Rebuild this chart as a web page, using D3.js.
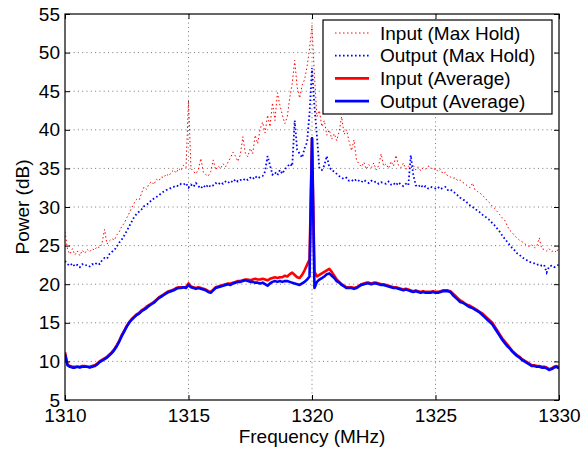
<!DOCTYPE html>
<html>
<head>
<meta charset="utf-8">
<script src="https://cdn.jsdelivr.net/npm/d3@7"></script>
<style>
  body { margin: 0; background: #fff; }
  svg text { font-family: "Liberation Sans", Arial, sans-serif; fill: #000; }
</style>
</head>
<body>
<div id="chart"></div>
<script>
// frequency grid, 0.1 MHz steps from 1310 to 1330
const freqs = d3.range(201).map(i => 1310 + i / 10);

const avgIn = [
  11.2, 9.6, 9.4, 9.3, 9.3, 9.3, 9.3, 9.4, 9.4, 9.3,
  9.3, 9.4, 9.5, 9.7, 10.0, 10.2, 10.4, 10.6, 10.9, 11.2,
  11.6, 12.1, 12.7, 13.4, 14.0, 14.6, 15.1, 15.5, 15.8, 16.1,
  16.3, 16.6, 16.8, 17.1, 17.3, 17.5, 17.7, 18.0, 18.3, 18.5,
  18.7, 18.9, 19.1, 19.2, 19.3, 19.5, 19.6, 19.6, 19.6, 19.6,
  20.1, 19.7, 19.6, 19.5, 19.6, 19.5, 19.4, 19.3, 19.1, 19.0,
  19.3, 19.6, 19.7, 19.8, 19.9, 20.0, 20.1, 20.1, 20.2, 20.3,
  20.4, 20.4, 20.5, 20.6, 20.6, 20.5, 20.6, 20.7, 20.6, 20.6,
  20.7, 20.6, 20.5, 20.7, 20.8, 20.9, 20.8, 20.9, 20.9, 21.1,
  21.0, 21.3, 21.5, 21.2, 20.9, 20.8, 21.2, 21.8, 22.5, 23.2,
  38.9,
  21.6, 21.0, 21.2, 21.4, 21.6, 21.8, 22.0, 21.6, 21.1, 20.6,
  20.3, 20.0, 19.8, 19.6, 19.6, 19.6, 19.5, 19.6, 19.8, 20.0,
  20.1, 20.2, 20.2, 20.1, 20.2, 20.2, 20.1, 20.0, 20.0, 19.9,
  19.8, 19.7, 19.6, 19.6, 19.5, 19.4, 19.3, 19.4, 19.3, 19.2,
  19.1, 19.2, 19.1, 19.0, 19.1, 19.0, 19.0, 19.0, 19.1, 19.0,
  19.0, 19.1, 19.2, 19.2, 19.2, 19.1, 18.8, 18.5, 18.2, 17.9,
  17.7, 17.5, 17.3, 17.2, 17.0, 16.8, 16.6, 16.4, 16.2, 15.9,
  15.6, 15.3, 15.0, 14.5, 14.0, 13.5, 13.0, 12.6, 12.2, 11.8,
  11.4, 11.1, 10.8, 10.6, 10.3, 10.1, 9.9, 9.7, 9.5, 9.5,
  9.4, 9.4, 9.3, 9.3, 9.2, 9.0, 9.1, 9.3, 9.4, 9.2,
  9.6
];

const avgOut = [
  10.9, 9.5, 9.3, 9.2, 9.2, 9.3, 9.2, 9.3, 9.3, 9.3,
  9.2, 9.3, 9.4, 9.6, 9.9, 10.1, 10.3, 10.5, 10.8, 11.1,
  11.5, 12.0, 12.6, 13.3, 13.9, 14.5, 15.0, 15.4, 15.7, 16.0,
  16.2, 16.5, 16.7, 16.9, 17.2, 17.4, 17.6, 17.9, 18.2, 18.4,
  18.6, 18.8, 19.0, 19.1, 19.2, 19.4, 19.5, 19.5, 19.6, 19.5,
  19.9, 19.6, 19.5, 19.4, 19.5, 19.4, 19.3, 19.2, 19.0, 18.9,
  19.2, 19.5, 19.6, 19.7, 19.8, 19.9, 20.0, 19.9, 20.1, 20.2,
  20.3, 20.3, 20.4, 20.5, 20.4, 20.3, 20.3, 20.2, 20.2, 20.1,
  20.2, 20.0, 19.8, 20.1, 20.3, 20.4, 20.3, 20.4, 20.3, 20.4,
  20.4, 20.3, 20.2, 20.1, 20.0, 19.9, 20.1, 20.3, 20.6, 21.0,
  38.9,
  19.5, 20.3, 20.6, 20.8, 21.0, 21.3, 21.4, 21.1, 20.8, 20.4,
  20.2, 19.9, 19.7, 19.5, 19.5, 19.5, 19.4, 19.5, 19.7, 19.9,
  20.0, 20.1, 20.1, 20.0, 20.1, 20.1, 20.0, 19.9, 19.9, 19.8,
  19.7, 19.6, 19.5, 19.5, 19.4, 19.3, 19.2, 19.3, 19.2, 19.1,
  19.0, 19.1, 19.0, 18.9, 19.0, 18.9, 18.9, 18.9, 19.0, 18.9,
  18.9, 19.0, 19.1, 19.1, 19.1, 19.0, 18.6, 18.3, 18.0, 17.7,
  17.6, 17.4, 17.2, 17.0, 16.9, 16.7, 16.5, 16.3, 16.0, 15.7,
  15.4, 15.1, 14.8, 14.3, 13.8, 13.3, 12.8, 12.4, 12.0, 11.7,
  11.3, 11.0, 10.7, 10.5, 10.2, 10.0, 9.8, 9.6, 9.4, 9.4,
  9.3, 9.3, 9.2, 9.2, 9.1, 8.9, 9.0, 9.2, 9.3, 9.1,
  9.5
];

const maxIn = [
  26.8, 24.5, 23.9, 24.6, 23.8, 24.3, 23.7, 24.4, 24.0, 24.5,
  24.2, 24.6, 24.4, 24.9, 24.7, 25.3, 27.1, 25.2, 25.6, 25.9,
  25.7, 26.4, 26.8, 27.5, 27.9, 28.6, 29.2, 29.9, 30.5, 31.0,
  30.9, 31.8, 32.6, 32.3, 33.0, 33.3, 32.9, 33.6, 33.4, 33.9,
  33.8, 34.3, 34.0, 34.5, 34.8, 34.4, 35.0, 34.7, 35.4, 35.1,
  43.8, 35.0, 34.6, 34.3, 34.9, 36.3, 34.5, 34.2, 34.0, 34.6,
  36.1, 34.8, 35.3, 35.0, 35.6, 35.2, 35.8, 36.4, 37.1, 36.6,
  35.9, 36.8, 39.1, 37.0, 36.5, 37.6, 36.9, 39.3, 38.2, 40.1,
  41.0, 39.6, 41.9, 40.4, 43.5, 41.2, 44.8, 43.2, 41.9, 40.8,
  41.7, 44.2, 46.0, 49.0, 45.5, 44.1, 45.8, 46.5, 48.2, 50.5,
  53.5,
  47.0, 41.7, 42.5, 40.4, 41.2, 39.3, 40.0, 38.8, 39.5,
  38.6, 39.8, 41.7, 39.4, 40.0, 38.5, 37.3, 38.7, 36.1, 35.6,
  35.2, 35.8, 34.9, 35.5, 35.1, 35.7, 34.8, 35.4, 36.9, 35.3,
  35.6, 35.0, 35.9, 35.3, 36.7, 35.4, 35.1, 35.7, 34.9, 35.3,
  35.0, 35.4, 34.8, 35.2, 34.7, 35.1, 34.9, 35.3, 35.2, 34.8,
  35.0, 34.6, 34.9, 34.3, 34.5, 34.0, 33.9, 33.7, 33.8, 33.4,
  33.5, 33.2, 33.0, 32.7, 32.5, 33.1, 32.2, 32.0, 31.8, 31.5,
  31.2, 30.8, 30.5, 30.1, 29.8, 29.4, 29.0, 28.6, 28.3, 27.6,
  27.0, 26.7, 26.3, 26.0, 25.7, 25.5, 25.3, 25.0, 24.9, 25.1,
  24.7, 24.9, 26.0, 24.6, 24.5, 24.3, 24.6, 24.2, 24.4, 24.1,
  24.9
];

const maxOut = [
  23.0, 22.6, 22.4, 22.7, 22.3, 22.5, 22.2, 22.6, 22.4, 22.5,
  22.3, 22.6, 22.5, 22.8, 22.6, 23.1, 23.4, 23.3, 23.9, 24.2,
  24.4, 24.9, 25.4, 25.8, 26.3, 26.9, 27.5, 28.1, 28.7, 29.1,
  29.4, 29.7, 30.1, 30.3, 30.5, 30.9, 31.1, 31.3, 31.5, 31.8,
  32.0, 32.2, 32.3, 32.5, 32.6, 32.8, 32.7, 33.0, 32.9, 33.1,
  32.5, 32.9, 32.6, 33.1, 32.7, 32.4, 32.8, 32.5, 32.9, 32.6,
  32.8, 33.1, 32.9, 33.2, 33.0, 33.3, 33.1, 33.4, 33.2, 33.6,
  33.3, 33.5, 33.4, 33.7, 33.5, 33.8, 33.6, 34.0, 33.7, 33.9,
  34.0, 34.6, 36.6, 35.4, 34.2, 34.5, 34.1, 34.8, 34.3, 34.9,
  35.2, 35.6, 35.3, 41.2, 37.4, 36.9, 36.4, 37.6, 38.4, 42.1,
  48.0,
  43.0, 39.2, 35.0, 34.8, 35.4, 36.6, 35.2, 34.7, 34.6,
  34.3, 34.0, 33.8, 33.6, 33.8, 33.4, 33.5, 33.3, 33.6, 33.4,
  33.2, 33.5, 33.3, 33.1, 33.4, 33.2, 33.3, 33.0, 33.2, 33.1,
  33.0, 33.3, 32.9, 33.1, 32.8, 33.2, 32.9, 32.7, 33.0, 32.8,
  36.7, 34.2, 32.8, 32.6, 32.9, 32.5, 32.7, 32.4, 32.6, 32.5,
  32.4, 32.6, 32.3, 32.5, 32.6, 32.2, 32.3, 32.0, 31.8, 31.5,
  31.2, 31.0, 30.8, 30.5, 30.2, 30.0, 29.8, 29.5, 29.3, 29.0,
  28.8, 28.5, 28.3, 27.9, 27.6, 27.2, 26.8, 26.3, 25.9, 25.5,
  25.1, 24.7, 24.4, 24.0, 23.8, 23.5, 23.3, 23.1, 22.9, 22.8,
  22.7, 22.5, 22.6, 22.4, 22.5, 21.5, 22.3, 22.4, 22.2, 22.3,
  22.6
];

const xTicks = [1310, 1315, 1320, 1325, 1330];
const yTicks = [5, 10, 15, 20, 25, 30, 35, 40, 45, 50, 55];
const legendLabels = ['Input (Max Hold)', 'Output (Max Hold)', 'Input (Average)', 'Output (Average)'];

const W = 583, H = 453;
const margin = { top: 14, right: 24, bottom: 53, left: 65 };
const iw = W - margin.left - margin.right;
const ih = H - margin.top - margin.bottom;

const svg = d3.select('#chart').append('svg')
  .attr('width', W)
  .attr('height', H);

const g = svg.append('g')
  .attr('transform', `translate(${margin.left},${margin.top})`);

const x = d3.scaleLinear().domain([1310, 1330]).range([0, iw]);
const y = d3.scaleLinear().domain([5, 55]).range([ih, 0]);

// dotted grid
g.append('g')
  .selectAll('line.vg')
  .data(xTicks.slice(1, -1))
  .enter().append('line')
  .attr('x1', d => x(d)).attr('x2', d => x(d))
  .attr('y1', 0).attr('y2', ih)
  .attr('stroke', '#777')
  .attr('stroke-dasharray', '1,3.3');

g.append('g')
  .selectAll('line.hg')
  .data(yTicks.slice(1, -1))
  .enter().append('line')
  .attr('x1', 0).attr('x2', iw)
  .attr('y1', d => y(d)).attr('y2', d => y(d))
  .attr('stroke', '#777')
  .attr('stroke-dasharray', '1,3.3');

const clip = g.append('clipPath').attr('id', 'clip')
  .append('rect').attr('width', iw).attr('height', ih);

const line = (vals) => d3.line()
  .x((d, i) => x(freqs[i]))
  .y(d => y(d))(vals);

const plot = g.append('g').attr('clip-path', 'url(#clip)');

plot.append('path')
  .attr('d', line(maxIn))
  .attr('fill', 'none')
  .attr('stroke', '#ff0000')
  .attr('stroke-width', 1)
  .attr('stroke-dasharray', '1.5,2.5');

plot.append('path')
  .attr('d', line(maxOut))
  .attr('fill', 'none')
  .attr('stroke', '#0000ff')
  .attr('stroke-width', 1.8)
  .attr('stroke-dasharray', '1.6,2.4');

plot.append('path')
  .attr('d', line(avgIn))
  .attr('fill', 'none')
  .attr('stroke', '#ff0000')
  .attr('stroke-width', 2.6)
  .attr('stroke-linejoin', 'round');

plot.append('path')
  .attr('d', line(avgOut))
  .attr('fill', 'none')
  .attr('stroke', '#0000ff')
  .attr('stroke-width', 2.6)
  .attr('stroke-linejoin', 'round');

// axes with inward ticks on all four sides
const fontSize = '19px';

const xAxis = g.append('g')
  .attr('transform', `translate(0,${ih})`)
  .call(d3.axisBottom(x).tickValues(xTicks).tickFormat(d3.format('d'))
    .tickSizeInner(-5).tickSizeOuter(0).tickPadding(9));

const yAxis = g.append('g')
  .call(d3.axisLeft(y).tickValues(yTicks).tickFormat(d3.format('d'))
    .tickSizeInner(-5).tickSizeOuter(0).tickPadding(5));

g.append('g')
  .call(d3.axisTop(x).tickValues(xTicks).tickFormat('').tickSizeInner(-5).tickSizeOuter(0));

g.append('g')
  .attr('transform', `translate(${iw},0)`)
  .call(d3.axisRight(y).tickValues(yTicks).tickFormat('').tickSizeInner(-5).tickSizeOuter(0));

g.selectAll('.domain').remove();
g.selectAll('.tick line').attr('stroke', '#000');
g.selectAll('.tick text')
  .attr('font-family', '"Liberation Sans", Arial, sans-serif')
  .attr('font-size', fontSize)
  .attr('fill', '#000');

g.append('rect')
  .attr('width', iw).attr('height', ih)
  .attr('fill', 'none')
  .attr('stroke', '#000')
  .attr('stroke-width', 1.2);

// axis labels
svg.append('text')
  .attr('x', margin.left + iw / 2)
  .attr('y', 443)
  .attr('text-anchor', 'middle')
  .attr('font-size', fontSize)
  .text('Frequency (MHz)');

svg.append('text')
  .attr('transform', `translate(29,${margin.top + ih / 2}) rotate(-90)`)
  .attr('text-anchor', 'middle')
  .attr('font-size', fontSize)
  .text('Power (dB)');

// legend
const legend = svg.append('g').attr('transform', 'translate(323,20)');
legend.append('rect')
  .attr('width', 229).attr('height', 94)
  .attr('fill', '#fff')
  .attr('stroke', '#000')
  .attr('stroke-width', 1.2);

const legendStyles = [
  { color: '#ff0000', width: 1, dash: '1.5,2.5' },
  { color: '#0000ff', width: 1.8, dash: '1.6,2.4' },
  { color: '#ff0000', width: 2.6, dash: null },
  { color: '#0000ff', width: 2.6, dash: null }
];

legendLabels.forEach((label, i) => {
  const row = legend.append('g').attr('transform', `translate(0,${13 + i * 22.7})`);
  row.append('line')
    .attr('x1', 12).attr('x2', 46)
    .attr('y1', 0).attr('y2', 0)
    .attr('stroke', legendStyles[i].color)
    .attr('stroke-width', legendStyles[i].width)
    .attr('stroke-dasharray', legendStyles[i].dash);
  row.append('text')
    .attr('x', 57)
    .attr('y', 0)
    .attr('dy', '0.35em')
    .attr('font-size', fontSize)
    .text(label);
});
</script>
</body>
</html>
